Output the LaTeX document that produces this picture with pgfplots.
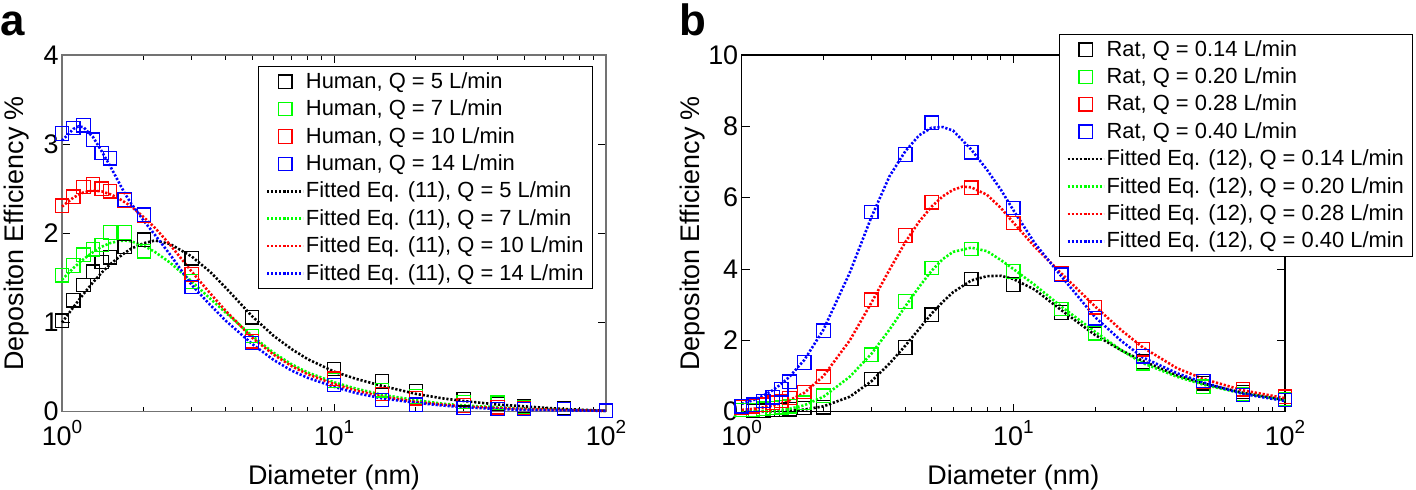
\documentclass[border=0pt]{standalone}
\usepackage{pgfplots}
\pgfplotsset{compat=1.18}
\usepackage{fontspec}
\setmainfont{Liberation Sans}
\definecolor{mgreen}{RGB}{0,255,0}
\definecolor{mred}{RGB}{255,0,0}
\definecolor{mblue}{RGB}{0,0,255}
\newcommand{\tenexp}[1]{10\raisebox{0.45em}{\fontsize{19}{19}\selectfont #1}}
\pgfplotsset{
  myaxis/.style={
    scale only axis,
    xmin=1, xmax=100,
    xtick={1,10,100},
    xticklabels={\tenexp{0},\tenexp{1},\tenexp{2}},
    xticklabel style={yshift=-5bp},
    ymin=0,
    tick align=inside,
    major tick length=8bp,
    minor tick length=5bp,
    every tick/.style={black, line width=0.9bp},
    tick label style={font=\fontsize{27}{30}\selectfont},
    /pgf/number format/assume math mode=true,
    label style={font=\fontsize{27}{30}\selectfont},
    clip=false,
    legend cell align=left,
    legend style={font=\fontsize{22}{26}\selectfont, draw=black, line width=0.8bp, fill=white,
      inner xsep=7bp, inner ysep=1.5bp,
      nodes={inner sep=1.5bp, text height=18.8bp, text depth=5.6bp}, row sep=0bp},
    legend image code/.code={\draw[mark repeat=2,mark phase=2,##1] plot coordinates {(0bp,0bp) (18bp,0bp) (36bp,0bp)};},
    xlabel={Diameter (nm)},
    ylabel={Depositon Efficiency \%},
    xlabel style={at={(axis description cs:0.5,-0.184)}, anchor=center},
  },
  dat/.style={only marks, mark=square, mark size=6.7bp, line width=1.3bp, color=#1, mark options={solid}},
  fit/.style={no marks, color=#1, line width=2.6bp, dash pattern=on 2.2bp off 1.8bp},
}
\begin{document}
\begin{tikzpicture}
\useasboundingbox (0bp,0bp) rectangle (1416bp,490bp);
\node[anchor=base west, inner sep=0pt, font=\fontsize{44}{44}\selectfont\bfseries] at (0bp,454bp) {a};
\node[anchor=base west, inner sep=0pt, font=\fontsize{44}{44}\selectfont\bfseries] at (679bp,454bp) {b};
% ---------------- panel a ----------------
\begin{semilogxaxis}[myaxis, at={(62bp,78.3bp)}, anchor=south west, width=544bp, height=356.7bp,
  ymax=4, ytick={0,1,2,3,4},
  axis line style={black!55, line width=1.2bp},
  ylabel style={at={(axis description cs:-0.083,0.5)}, anchor=center},
  legend style={at={(0.975,0.969)}, anchor=north east}]
\addplot[dat=black] coordinates {(1,1.02) (1.1,1.25) (1.2,1.42) (1.3,1.57) (1.4,1.68) (1.5,1.73) (1.7,1.85) (2,1.93) (3,1.72) (5,1.06) (10,0.48) (15,0.34) (20,0.23) (30,0.14) (40,0.09) (50,0.06) (70,0.04) (100,0.01)};
\addlegendentry{Human, Q = 5 L/min}
\addplot[dat=mgreen] coordinates {(1,1.53) (1.1,1.64) (1.2,1.76) (1.3,1.82) (1.4,1.87) (1.5,2.01) (1.7,2.01) (2,1.80) (3,1.46) (5,0.85) (10,0.35) (15,0.24) (20,0.17) (30,0.11) (40,0.10) (50,0.05) (70,0.03) (100,0.01)};
\addlegendentry{Human, Q = 7 L/min}
\addplot[dat=mred] coordinates {(1,2.31) (1.1,2.41) (1.2,2.52) (1.3,2.55) (1.4,2.50) (1.5,2.47) (1.7,2.37) (2,2.20) (3,1.54) (5,0.79) (10,0.37) (15,0.20) (20,0.15) (30,0.07) (40,0.05) (50,0.04) (70,0.03) (100,0.01)};
\addlegendentry{Human, Q = 10 L/min}
\addplot[dat=mblue] coordinates {(1,3.12) (1.1,3.18) (1.2,3.21) (1.3,3.05) (1.4,2.90) (1.5,2.84) (1.7,2.38) (2,2.21) (3,1.40) (5,0.77) (10,0.30) (15,0.13) (20,0.08) (30,0.04) (40,0.03) (50,0.03) (70,0.03) (100,0.01)};
\addlegendentry{Human, Q = 14 L/min}
\addplot[fit=black] coordinates {(1,1.00) (1.1,1.17) (1.2,1.32) (1.3,1.45) (1.4,1.56) (1.5,1.65) (1.6,1.72) (1.7,1.78) (1.8,1.83) (2,1.89) (2.2,1.92) (2.5,1.88) (3,1.74) (3.5,1.57) (4,1.39) (5,1.07) (6,0.85) (7,0.70) (8,0.59) (10,0.45) (12,0.37) (15,0.29) (20,0.20) (25,0.15) (30,0.12) (40,0.08) (50,0.06) (70,0.03) (100,0.01)};
\addlegendentry{Fitted Eq. (11), Q = 5 L/min}
\addplot[fit=mgreen] coordinates {(1,1.48) (1.1,1.61) (1.2,1.71) (1.3,1.79) (1.4,1.85) (1.5,1.89) (1.6,1.91) (1.7,1.92) (1.8,1.91) (2,1.86) (2.2,1.79) (2.5,1.67) (3,1.46) (3.5,1.27) (4,1.11) (5,0.85) (6,0.66) (7,0.53) (8,0.44) (10,0.33) (12,0.26) (15,0.19) (20,0.13) (25,0.09) (30,0.07) (40,0.05) (50,0.03) (70,0.02) (100,0.01)};
\addlegendentry{Fitted Eq. (11), Q = 7 L/min}
\addplot[fit=mred] coordinates {(1,2.30) (1.1,2.40) (1.2,2.46) (1.3,2.48) (1.4,2.47) (1.5,2.44) (1.6,2.40) (1.7,2.35) (1.8,2.30) (2,2.18) (2.2,2.06) (2.5,1.87) (3,1.57) (3.5,1.33) (4,1.13) (5,0.83) (6,0.64) (7,0.51) (8,0.42) (10,0.31) (12,0.24) (15,0.17) (20,0.11) (25,0.08) (30,0.06) (40,0.04) (50,0.03) (70,0.02) (100,0.01)};
\addlegendentry{Fitted Eq. (11), Q = 10 L/min}
\addplot[fit=mblue] coordinates {(1,3.04) (1.1,3.17) (1.15,3.20) (1.2,3.19) (1.3,3.08) (1.4,2.92) (1.5,2.76) (1.6,2.60) (1.7,2.45) (1.8,2.33) (2,2.14) (2.2,1.98) (2.5,1.76) (3,1.42) (3.5,1.20) (4,1.02) (5,0.76) (6,0.58) (7,0.46) (8,0.38) (10,0.28) (12,0.21) (15,0.15) (20,0.10) (25,0.07) (30,0.05) (40,0.03) (50,0.02) (70,0.015) (100,0.01)};
\addlegendentry{Fitted Eq. (11), Q = 14 L/min}
\end{semilogxaxis}
% ---------------- panel b ----------------
\begin{semilogxaxis}[myaxis, at={(741.7bp,78.3bp)}, anchor=south west, width=543.3bp, height=356.7bp,
  ymax=10, ytick={0,2,4,6,8,10},
  axis line style={black, line width=1.2bp},
  ylabel style={at={(axis description cs:-0.0905,0.5)}, anchor=center},
  legend style={at={(1.2353,1.0589)}, anchor=north east}]
\addplot[dat=black] coordinates {(1,0.05) (1.1,0.02) (1.2,0.03) (1.3,0.05) (1.4,0.05) (1.5,0.07) (1.7,0.10) (2,0.12) (3,0.92) (4,1.80) (5,2.72) (7,3.72) (10,3.56) (15,2.78) (20,2.18) (30,1.40) (50,0.80) (70,0.55) (100,0.35)};
\addlegendentry{Rat, Q = 0.14 L/min}
\addplot[dat=mgreen] coordinates {(1,0.05) (1.1,0.05) (1.2,0.08) (1.3,0.10) (1.4,0.12) (1.5,0.15) (1.7,0.25) (2,0.45) (3,1.60) (4,3.09) (5,4.03) (7,4.56) (10,3.93) (15,2.88) (20,2.20) (30,1.36) (50,0.70) (70,0.50) (100,0.35)};
\addlegendentry{Rat, Q = 0.20 L/min}
\addplot[dat=mred] coordinates {(1,0.12) (1.1,0.15) (1.2,0.20) (1.3,0.25) (1.4,0.30) (1.5,0.38) (1.7,0.55) (2,0.98) (3,3.14) (4,4.94) (5,5.87) (7,6.28) (10,5.29) (15,3.87) (20,2.93) (30,1.75) (50,0.85) (70,0.63) (100,0.42)};
\addlegendentry{Rat, Q = 0.28 L/min}
\addplot[dat=mblue] coordinates {(1,0.15) (1.1,0.20) (1.2,0.30) (1.3,0.40) (1.4,0.63) (1.5,0.84) (1.7,1.38) (2,2.27) (3,5.60) (4,7.21) (5,8.10) (7,7.27) (10,5.71) (15,3.84) (20,2.62) (30,1.55) (50,0.86) (70,0.47) (100,0.33)};
\addlegendentry{Rat, Q = 0.40 L/min}
\addplot[fit=black] coordinates {(1,0.00) (1.1,0.00) (1.2,0.01) (1.3,0.01) (1.4,0.02) (1.5,0.03) (1.7,0.06) (2,0.15) (2.5,0.42) (3,0.85) (3.5,1.35) (4,1.85) (4.5,2.32) (5,2.75) (5.5,3.08) (6,3.35) (7,3.68) (8,3.80) (9,3.81) (10,3.72) (12,3.42) (15,2.85) (20,2.15) (25,1.72) (30,1.42) (40,1.02) (50,0.79) (70,0.53) (100,0.33)};
\addlegendentry{Fitted Eq. (12), Q = 0.14 L/min}
\addplot[fit=mgreen] coordinates {(1,0.01) (1.1,0.01) (1.2,0.02) (1.3,0.03) (1.4,0.05) (1.5,0.08) (1.7,0.18) (2,0.42) (2.5,0.98) (3,1.62) (3.5,2.30) (4,2.95) (4.5,3.50) (5,3.95) (5.5,4.28) (6,4.48) (7,4.60) (8,4.50) (9,4.25) (10,4.00) (12,3.55) (15,2.95) (20,2.24) (25,1.72) (30,1.36) (40,0.98) (50,0.76) (70,0.51) (100,0.32)};
\addlegendentry{Fitted Eq. (12), Q = 0.20 L/min}
\addplot[fit=mred] coordinates {(1,0.05) (1.1,0.08) (1.2,0.12) (1.3,0.17) (1.4,0.24) (1.5,0.32) (1.7,0.53) (2,1.00) (2.5,2.00) (3,3.05) (3.5,3.98) (4,4.75) (4.5,5.33) (5,5.75) (5.5,6.04) (6,6.22) (6.5,6.31) (7,6.29) (8,6.08) (9,5.71) (10,5.30) (12,4.62) (15,3.88) (20,2.95) (25,2.28) (30,1.80) (40,1.22) (50,0.92) (70,0.60) (100,0.38)};
\addlegendentry{Fitted Eq. (12), Q = 0.28 L/min}
\addplot[fit=mblue] coordinates {(1,0.22) (1.1,0.32) (1.2,0.45) (1.3,0.60) (1.4,0.78) (1.5,0.98) (1.7,1.45) (2,2.30) (2.5,3.90) (3,5.45) (3.5,6.60) (4,7.30) (4.5,7.75) (5,7.96) (5.5,7.98) (6,7.88) (7,7.35) (8,6.78) (9,6.22) (10,5.65) (12,4.72) (15,3.80) (20,2.65) (25,1.98) (30,1.52) (40,1.08) (50,0.82) (70,0.50) (100,0.30)};
\addlegendentry{Fitted Eq. (12), Q = 0.40 L/min}
\end{semilogxaxis}
\end{tikzpicture}
\end{document}
